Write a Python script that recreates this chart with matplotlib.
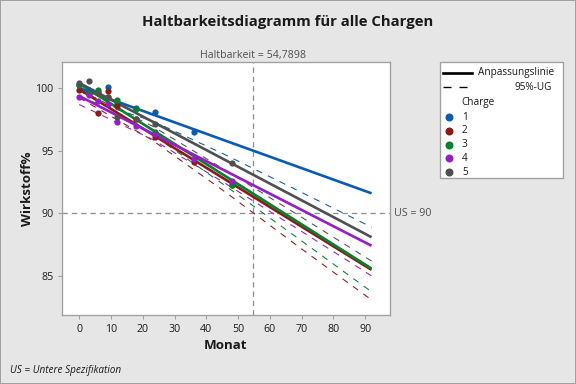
import matplotlib
matplotlib.use("Agg")
import matplotlib.pyplot as plt
from matplotlib.lines import Line2D
from matplotlib.patches import Rectangle

plt.rcParams['font.family'] = ['Open Sans', 'DejaVu Sans']

# ---- data ----
batches = ["1", "2", "3", "4", "5"]
colors = ["#0A5CB0", "#8C1A1A", "#0A7F2E", "#9420C4", "#505050"]

months_1 = [0, 3, 6, 9, 12, 18, 24, 36]
values_1 = [100.2, 99.8, 99.7, 100.05, 98.8, 98.4, 98.05, 96.45]
months_2 = [0, 3, 6, 9, 12, 18, 24, 36, 48]
values_2 = [99.8, 99.6, 97.98, 99.74, 98.6, 97.5, 96.1, 94.1, 92.3]
months_3 = [0, 3, 6, 9, 12, 18, 24, 48]
values_3 = [100.2, 99.6, 99.87, 99.3, 99.04, 98.3, 96.5, 92.26]
months_4 = [0, 3, 6, 9, 12, 18, 24, 36, 48]
values_4 = [99.26, 99.4, 99.0, 98.7, 97.3, 97.0, 96.3, 94.3, 92.6]
months_5 = [0, 3, 6, 9, 12, 18, 24, 48]
values_5 = [100.4, 100.53, 99.6, 99.26, 97.7, 97.5, 97.1, 94.04]

# fitted lines (value at month 0 and month 92)
fit_months = [0, 92]
fit_1 = [100.0, 91.6]
fit_2 = [99.9, 85.5]
fit_3 = [100.35, 85.6]
fit_4 = [99.36, 87.42]
fit_5 = [100.4, 88.1]

# 95% lower bounds
lb_months = [0, 23, 46, 69, 92]
lb_1 = [99.23, 97.38, 94.67, 91.8, 88.9]
lb_2 = [99.22, 95.84, 91.7, 87.35, 83.1]
lb_3 = [99.82, 96.31, 92.2, 87.99, 83.75]
lb_4 = [98.68, 95.91, 92.39, 88.72, 85.02]
lb_5 = [99.86, 96.96, 93.45, 89.85, 86.2]

shelf_life = 54.7898
spec_limit = 90

x_ticks = [0, 10, 20, 30, 40, 50, 60, 70, 80, 90]
y_ticks = [85, 90, 95, 100]

months = [months_1, months_2, months_3, months_4, months_5]
values = [values_1, values_2, values_3, values_4, values_5]
fits = [fit_1, fit_2, fit_3, fit_4, fit_5]
lbs = [lb_1, lb_2, lb_3, lb_4, lb_5]

# ---- figure ----
W, H = 576, 384
fig = plt.figure(figsize=(6, 4), dpi=96, facecolor="#E6E6E6")
fig.patch.set_edgecolor("#A0A0A0")
fig.patch.set_linewidth(1.5)

def fx(px):
    return px / W

def fy(py):
    return 1 - py / H

ax = fig.add_axes([fx(62), fy(315), fx(390) - fx(62), fy(62) - fy(315)])
ax.set_facecolor("white")
for s in ax.spines.values():
    s.set_color("#A0A0A0")
    s.set_linewidth(1.0)

for i in range(5):
    ax.plot(lb_months, lbs[i], color=colors[i], lw=0.8, dashes=(6, 6), zorder=2)
for i in range(5):
    ax.plot(fit_months, fits[i], color=colors[i], lw=2.0, zorder=3, solid_capstyle="butt")
for i in range(5):
    ax.scatter(months[i], values[i], s=22, color=colors[i], zorder=4, linewidths=0)

ax.axvline(shelf_life, color="#909090", lw=1, dashes=(4, 3), zorder=1)
ax.axhline(spec_limit, color="#909090", lw=1, dashes=(4, 3), zorder=1)

ax.set_xlim(-5.4, 97.8)
ax.set_ylim(81.9, 102.07)
ax.set_xticks(x_ticks)
ax.set_yticks(y_ticks)
ax.tick_params(axis="both", labelsize=8, color="#A0A0A0", length=3, width=0.8,
               labelcolor="#1A1A1A")
ax.set_xlabel("Monat", fontsize=10, fontweight="bold", color="#1A1A1A", labelpad=3)
ax.set_ylabel("Wirkstoff%", fontsize=10, fontweight="bold", color="#1A1A1A", labelpad=1)

# texts
fig.text(fx(288), fy(22), "Haltbarkeitsdiagramm für alle Chargen", ha="center", va="center",
         fontsize=11.2, fontweight="bold", color="#1A1A1A")
ax.text(shelf_life, 1.005, "Haltbarkeit = 54,7898", transform=ax.get_xaxis_transform(),
        ha="center", va="bottom", fontsize=8, color="#505050")
ax.text(1.012, spec_limit, "US = 90", transform=ax.get_yaxis_transform(),
        ha="left", va="center", fontsize=8, color="#505050")
fig.text(fx(10), fy(370), "US = Untere Spezifikation", ha="left", va="center",
         fontsize=7.5, style="italic", color="#1A1A1A")

# legend box
fig.patches.append(Rectangle((fx(440), fy(178)), fx(563) - fx(440), fy(62) - fy(178),
                             transform=fig.transFigure, facecolor="white",
                             edgecolor="#A0A0A0", lw=1.0, zorder=1))
fig.lines.append(Line2D([fx(443), fx(472)], [fy(73), fy(73)], transform=fig.transFigure,
                        color="black", lw=2.0, zorder=2))
fig.text(fx(478), fy(73), "Anpassungslinie", ha="left", va="center", fontsize=7.5, color="#1A1A1A")
fig.lines.append(Line2D([fx(443), fx(469)], [fy(87), fy(87)], transform=fig.transFigure,
                        color="black", lw=1.0, dashes=(6, 6), zorder=2))
fig.text(fx(552), fy(87), "95%-UG", ha="right", va="center", fontsize=7.5, color="#1A1A1A")
fig.text(fx(461), fy(103), "Charge", ha="left", va="center", fontsize=7.5, color="#1A1A1A")
for i, b in enumerate(batches):
    yy = 117 + i * 13.8
    fig.lines.append(Line2D([fx(449)], [fy(yy)], transform=fig.transFigure, marker="o",
                            markersize=5, color=colors[i], lw=0, zorder=2))
    fig.text(fx(462), fy(yy), b, ha="left", va="center", fontsize=7.5, color="#1A1A1A")

fig.savefig("out.png", dpi=96, facecolor=fig.get_facecolor(), edgecolor=fig.patch.get_edgecolor())
